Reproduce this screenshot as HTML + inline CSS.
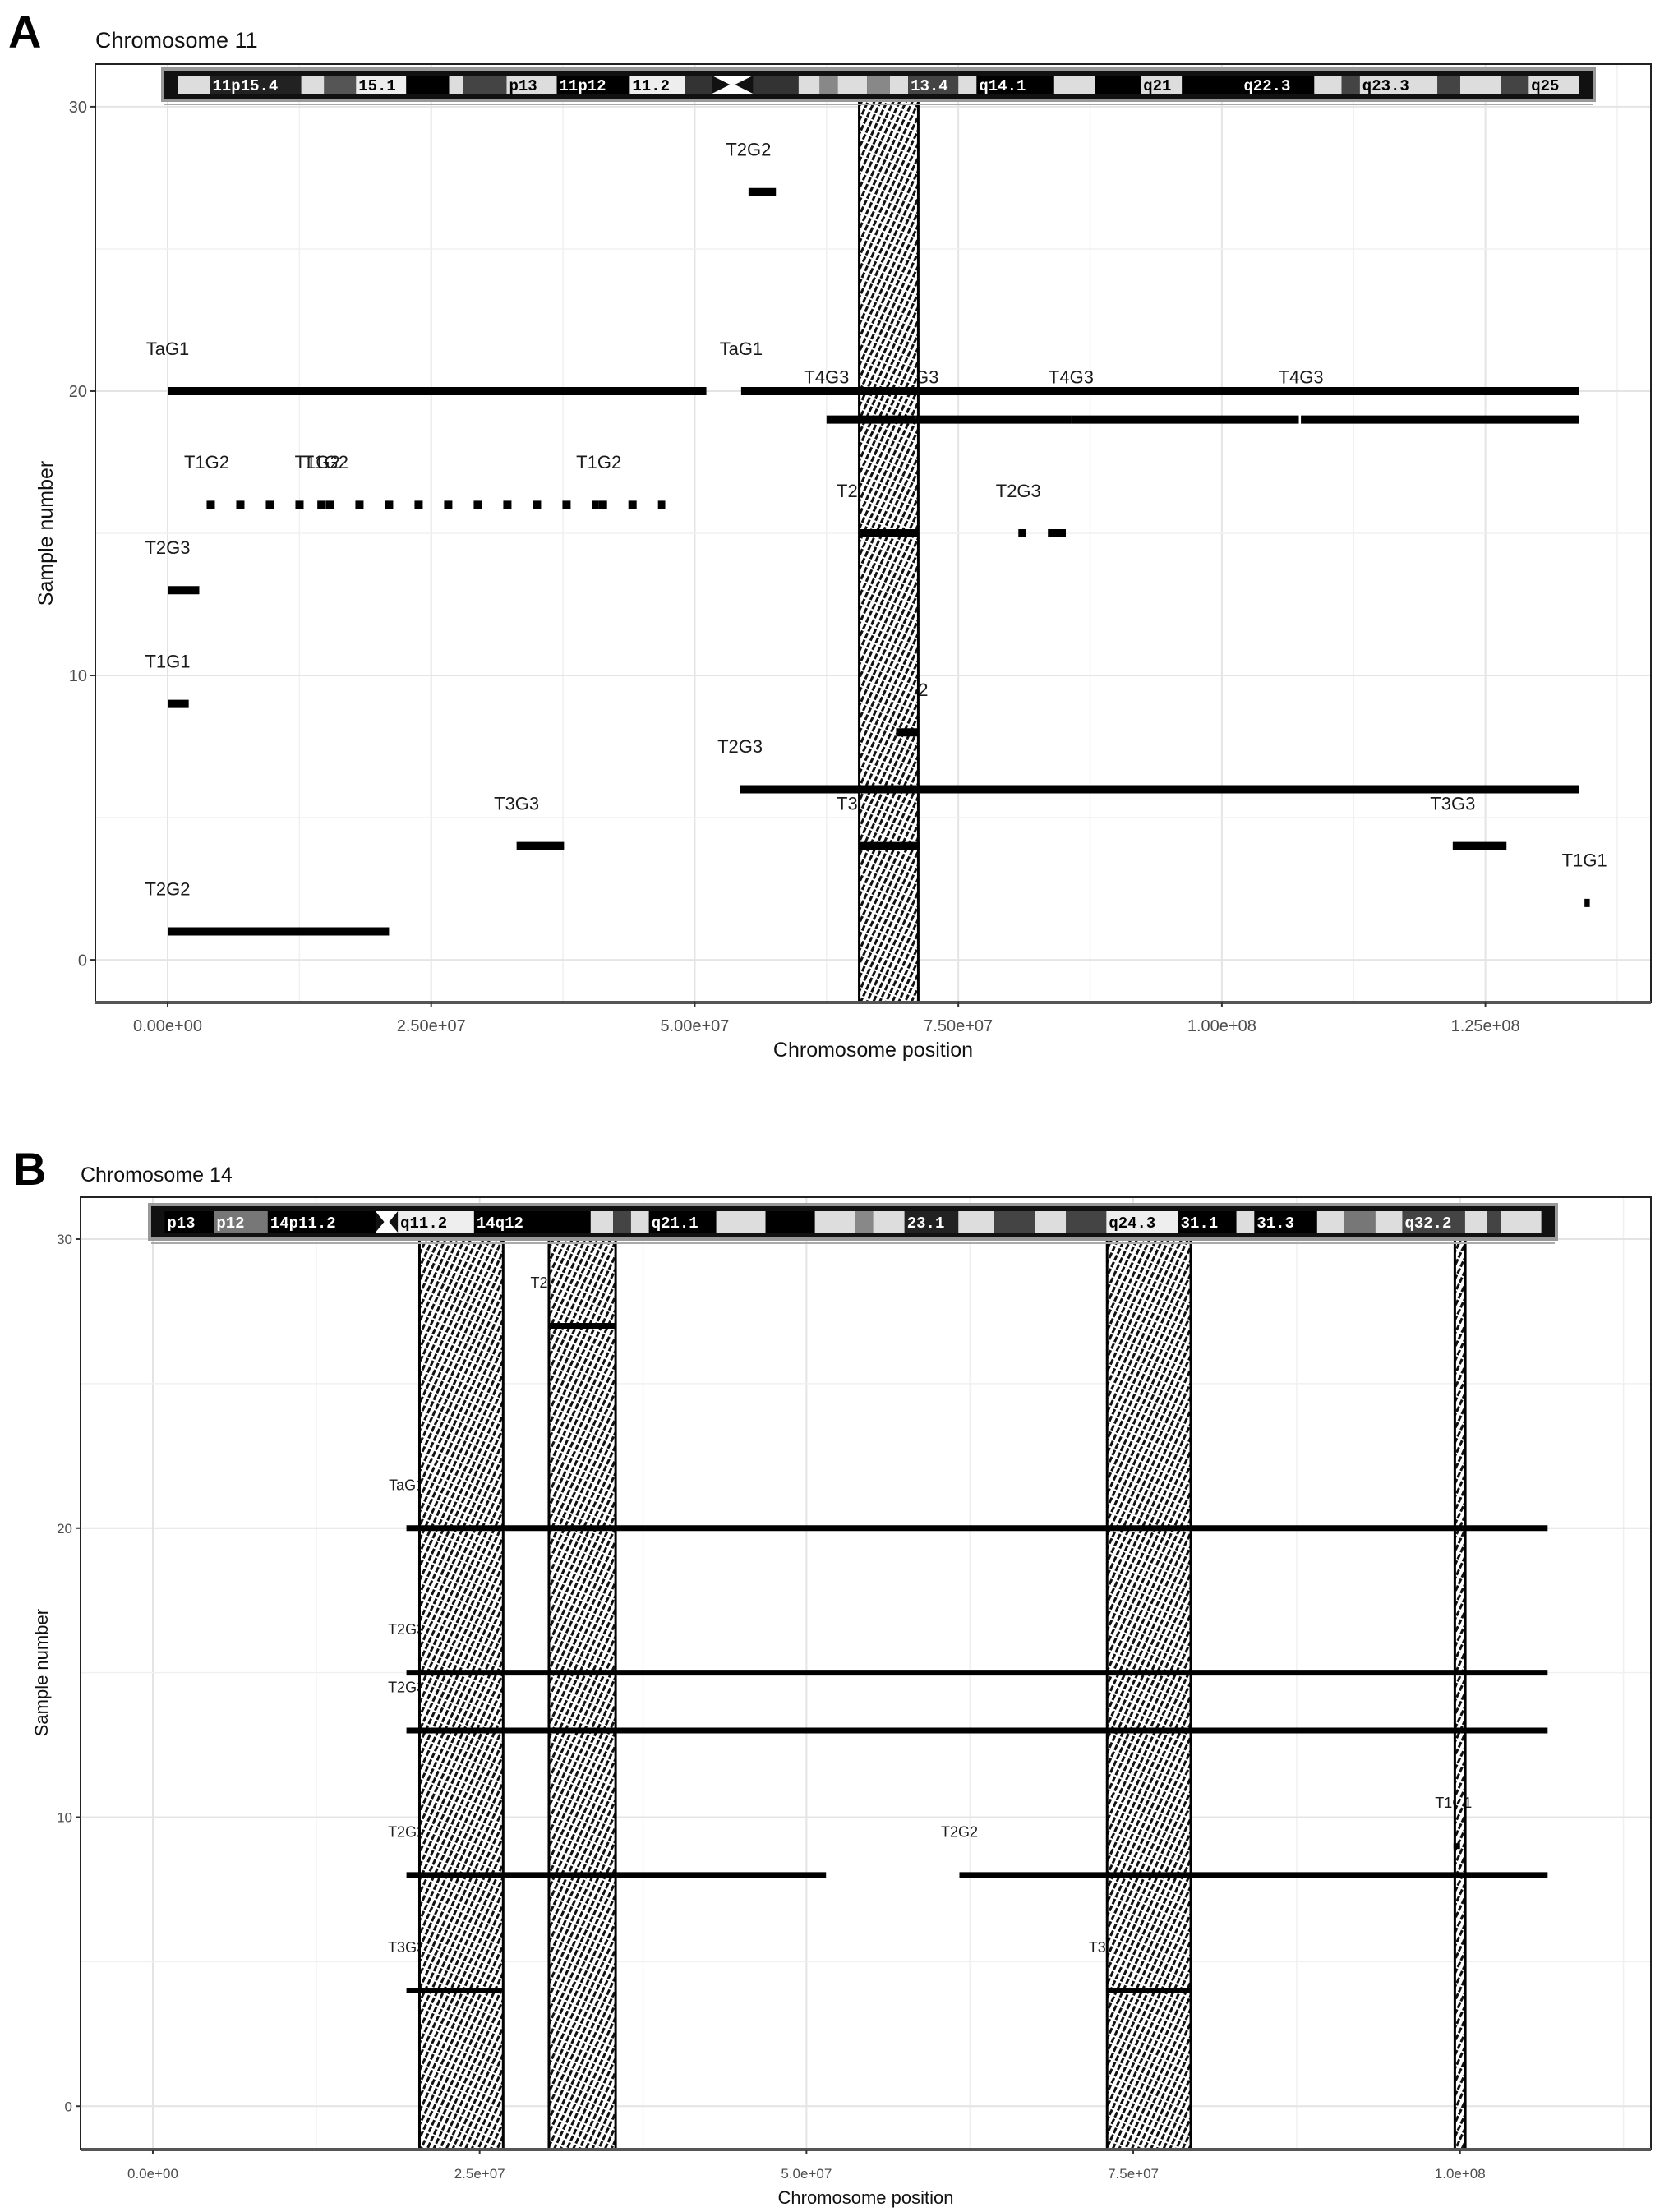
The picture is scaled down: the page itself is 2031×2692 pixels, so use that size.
<!DOCTYPE html>
<html><head><meta charset="utf-8">
<style>
html,body{margin:0;padding:0;background:#fff;}
body{width:2031px;height:2692px;overflow:hidden;font-family:"Liberation Sans",sans-serif;}
svg{display:block;}
</style></head>
<body>
<svg id="fig" width="2031" height="2692" viewBox="0 0 2031 2692" xmlns="http://www.w3.org/2000/svg">
<defs>
<pattern id="hatch" width="7" height="9" patternUnits="userSpaceOnUse" patternTransform="rotate(25)">
<rect width="7" height="9" fill="#fff"/>
<rect x="0" y="0" width="3" height="7" fill="#111"/>
</pattern>
</defs>
</svg>
<script>
// ---------- Panel A data (Chromosome 11) ----------
const aSegStart  = [5.51e7, 0, 5.44e7, 6.25e7, 7.10e7, 8.57e7, 1.075e8, 0.37e7, 1.42e7, 1.50e7, 4.09e7, 6.56e7, 8.07e7, 8.35e7, 0, 0, 6.91e7, 7.00e7, 5.43e7, 3.31e7, 6.56e7, 1.219e8, 1.344e8, 0];
const aSegEnd    = [5.77e7, 5.11e7, 1.339e8, 7.10e7, 8.57e7, 1.073e8, 1.339e8, 1.42e7, 1.50e7, 4.09e7, 4.72e7, 7.12e7, 8.14e7, 8.52e7, 0.3e7, 0.2e7, 7.00e7, 7.11e7, 1.339e8, 3.76e7, 7.14e7, 1.270e8, 1.349e8, 2.10e7];
const aSegSample = [27, 20, 20, 19, 19, 19, 19, 16, 16, 16, 16, 15, 15, 15, 13, 9, 8, 8, 6, 4, 4, 4, 2, 1];
const aSegLabel  = ['T2G2','TaG1','TaG1','T4G3','T4G3','T4G3','T4G3','T1G2','T1G2','T1G2','T1G2','T2G3','T2G3','','T2G3','T1G1','T2G2','T2G2','T2G3','T3G3','T3G3','T3G3','T1G1','T2G2'];
const aSegDashed = [0,0,0,0,0,0,0,1,1,1,1,0,0,0,0,0,0,0,0,0,0,0,0,0];
const aHatchStart = [6.56e7];
const aHatchEnd   = [7.12e7];
const aXTicks = [0, 2.5e7, 5.0e7, 7.5e7, 1.0e8, 1.25e8];
const aXTickLabels = ['0.00e+00','2.50e+07','5.00e+07','7.50e+07','1.00e+08','1.25e+08'];
const aYTicks = [0, 10, 20, 30];
const aYTickLabels = ['0','10','20','30'];

// ---------- Panel B data (Chromosome 14) ----------
const bSegStart  = [3.03e7, 1.94e7, 1.94e7, 1.94e7, 1.94e7, 6.17e7, 0.995e8, 1.94e7, 7.30e7];
const bSegEnd    = [3.54e7, 1.067e8, 1.067e8, 1.067e8, 5.15e7, 1.067e8, 1.0e8, 2.67e7, 7.94e7];
const bSegSample = [27, 20, 15, 13, 8, 8, 9, 4, 4];
const bSegLabel  = ['T2G2','TaG1','T2G3','T2G3','T2G2','T2G2','T1G1','T3G3','T3G3'];
const bHatchStart = [2.04e7, 3.03e7, 7.30e7, 0.996e8];
const bHatchEnd   = [2.68e7, 3.54e7, 7.94e7, 1.004e8];
const bXTicks = [0, 2.5e7, 5.0e7, 7.5e7, 1.0e8];
const bXTickLabels = ['0.0e+00','2.5e+07','5.0e+07','7.5e+07','1.0e+08'];
const bYTicks = [0, 10, 20, 30];
const bYTickLabels = ['0','10','20','30'];

// ideogram bands (layout, in ideogram-local units 15..1550)
const aBands = [[15,50,'#ddd'],[50,150,'#222','11p15.4','#fff'],[150,175,'#ddd'],[175,210,'#555'],[210,265,'#eee','15.1','#000'],[265,312,'#000'],[312,327,'#ddd'],[327,375,'#444'],[375,430,'#ddd','p13','#000'],[430,510,'#000','11p12','#fff'],[510,570,'#eee','11.2','#000'],[570,600,'#333'],[645,695,'#333'],[695,718,'#ddd'],[718,738,'#888'],[738,770,'#ddd'],[770,795,'#888'],[795,815,'#ddd'],[815,870,'#444','13.4','#fff'],[870,890,'#ddd'],[890,975,'#000','q14.1','#fff'],[975,1020,'#ddd'],[1020,1070,'#000'],[1070,1115,'#ddd','q21','#000'],[1115,1180,'#000'],[1180,1260,'#000','q22.3','#fff'],[1260,1290,'#ddd'],[1290,1310,'#444'],[1310,1395,'#ddd','q23.3','#000'],[1395,1420,'#444'],[1420,1465,'#ddd'],[1465,1495,'#444'],[1495,1550,'#ddd','q25','#000']];
const bBands = [[15,70,'#000','p13','#fff'],[70,130,'#777','p12','#fff'],[130,250,'#000','14p11.2','#fff'],[275,360,'#eee','q11.2','#000'],[360,490,'#000','14q12','#fff'],[490,515,'#ddd'],[515,535,'#444'],[535,555,'#ddd'],[555,630,'#000','q21.1','#fff'],[630,685,'#ddd'],[685,740,'#000'],[740,785,'#ddd'],[785,805,'#888'],[805,840,'#ddd'],[840,900,'#222','23.1','#fff'],[900,940,'#ddd'],[940,985,'#444'],[985,1020,'#ddd'],[1020,1065,'#444'],[1065,1145,'#eee','q24.3','#000'],[1145,1210,'#000','31.1','#fff'],[1210,1230,'#ddd'],[1230,1300,'#000','31.3','#fff'],[1300,1330,'#ddd'],[1330,1365,'#777'],[1365,1395,'#ddd'],[1395,1465,'#444','q32.2','#fff'],[1465,1490,'#ddd'],[1490,1505,'#444'],[1505,1550,'#ddd']];

const NS = 'http://www.w3.org/2000/svg';
const svg = document.getElementById('fig');
function mk(tag, attrs, parent){
  const e = document.createElementNS(NS, tag);
  for (const k in attrs) e.setAttribute(k, attrs[k]);
  (parent || svg).appendChild(e);
  return e;
}

function drawPanel(p, d){
  const g = mk('g', {});
  
  
  const xs = v => p.left + (v - p.xmin) / (p.xmax - p.xmin) * (p.right - p.left);
  const ys = v => p.bottom - (v - p.ymin) / (p.ymax - p.ymin) * (p.bottom - p.top);

  const letter = mk('text', {x:p.letterX, y:p.letterY, 'font-size':p.letterSize, 'font-weight':'bold', fill:'#000'}, g);
  letter.textContent = p.letter;
  
  
  const title = mk('text', {x:p.left, y:p.titleY, 'font-size':p.titleSize, fill:'#111'}, g);
  title.textContent = p.title;
  
  

  const grid = mk('g', {}, g);
  
  
  for (let i = 0; i < d.xTicks.length; i++){
    const x = xs(d.xTicks[i]);
    mk('line', {x1:x, x2:x, y1:p.top, y2:p.bottom, stroke:'#e4e4e4', 'stroke-width':2}, grid);
    const xm = xs(d.xTicks[i] + (d.xTicks[1]-d.xTicks[0])/2);
    if (xm < p.right) mk('line', {x1:xm, x2:xm, y1:p.top, y2:p.bottom, stroke:'#f0f0f0', 'stroke-width':1.5}, grid);
  }
  for (let i = 0; i < d.yTicks.length; i++){
    const y = ys(d.yTicks[i]);
    mk('line', {x1:p.left, x2:p.right, y1:y, y2:y, stroke:'#e4e4e4', 'stroke-width':2}, grid);
    const ym = ys(d.yTicks[i] + 5);
    if (ym > p.top) mk('line', {x1:p.left, x2:p.right, y1:ym, y2:ym, stroke:'#f0f0f0', 'stroke-width':1.5}, grid);
  }

  for (let i = 0; i < d.segStart.length; i++){
    if (!d.segLabel[i]) continue;
    const t = mk('text', {x:xs(d.segStart[i]), y:ys(d.segSample[i] + 1.5) + p.labelSize*0.35, 'font-size':p.labelSize, 'text-anchor':'middle', fill:'#1a1a1a'}, g);
    t.textContent = d.segLabel[i];
    
    
  }

  for (let i = 0; i < d.hatchStart.length; i++){
    const x0 = xs(d.hatchStart[i]), x1 = xs(d.hatchEnd[i]);
    const r = mk('rect', {x:x0, y:p.hatchTop, width:Math.max(x1-x0, 4), height:p.bottom - p.hatchTop, fill:'url(#hatch)', stroke:'#000', 'stroke-width':3}, g);
    
    
  }

  for (let i = 0; i < d.segStart.length; i++){
    const y = ys(d.segSample[i]);
    const attrs = {x1:xs(d.segStart[i]), x2:xs(d.segEnd[i]), y1:y, y2:y, stroke:'#000', 'stroke-width':p.lineW};
    if (d.segDashed && d.segDashed[i]) attrs['stroke-dasharray'] = '10 26';
    const l = mk('line', attrs, g);
    
    
  }

  const ig = mk('g', {}, g);
  
  
  const iw = p.ideoR - p.ideoL;
  const ix = z => p.ideoL + (z / 1565) * iw;
  mk('rect', {x:p.ideoL - 4, y:p.ideoT - 4, width:iw + 8, height:p.ideoB - p.ideoT + 8, fill:'#999'}, ig);
  mk('rect', {x:p.ideoL, y:p.ideoT, width:iw, height:p.ideoB - p.ideoT, fill:'#111'}, ig);
  const bt = p.ideoT + 6, bb = p.ideoB - 6;
  for (const b of p.bands){
    mk('rect', {x:ix(b[0]), y:bt, width:ix(b[1]) - ix(b[0]), height:bb - bt, fill:b[2]}, ig);
    if (b[3]){
      const t = mk('text', {x:ix(b[0]) + 3, y:(bt+bb)/2 + p.ideoFont*0.36, 'font-size':p.ideoFont, 'font-weight':'bold', 'font-family':'Liberation Mono, monospace', fill:b[4], textLength:Math.min(ix(b[1]) - ix(b[0]) - 5, b[3].length*p.ideoFont*0.6), lengthAdjust:'spacingAndGlyphs'}, ig);
      t.textContent = b[3];
      
      
    }
  }
  const c0 = ix(p.cen[0]), c1 = ix(p.cen[1]), cm = (c0+c1)/2, cy = (bt+bb)/2;
  mk('polygon', {points:`${c0},${bt} ${c1},${bt} ${cm+3},${cy} ${c1},${bb} ${c0},${bb} ${cm-3},${cy}`, fill:'#fff'}, ig);
  mk('line', {x1:p.ideoL, x2:p.ideoR, y1:p.ideoB + 7, y2:p.ideoB + 7, stroke:'#aaa', 'stroke-width':2}, ig);

  mk('rect', {x:p.left, y:p.top, width:p.right - p.left, height:p.bottom - p.top, fill:'none', stroke:'#222', 'stroke-width':2}, g);
  mk('line', {x1:p.left, x2:p.right, y1:p.bottom, y2:p.bottom, stroke:'#555', 'stroke-width':4}, g);

  for (let i = 0; i < d.xTicks.length; i++){
    const x = xs(d.xTicks[i]);
    mk('line', {x1:x, x2:x, y1:p.bottom, y2:p.bottom + 6, stroke:'#333', 'stroke-width':2}, g);
    const t = mk('text', {x:x, y:p.bottom + 35, 'font-size':p.tickSize, 'text-anchor':'middle', fill:'#4d4d4d'}, g);
    t.textContent = d.xTickLabels[i];
    
    
  }
  for (let i = 0; i < d.yTicks.length; i++){
    const y = ys(d.yTicks[i]);
    mk('line', {x1:p.left - 6, x2:p.left, y1:y, y2:y, stroke:'#333', 'stroke-width':2}, g);
    const t = mk('text', {x:p.left - 10, y:y + p.tickSize*0.36, 'font-size':p.tickSize, 'text-anchor':'end', fill:'#4d4d4d'}, g);
    t.textContent = d.yTickLabels[i];
    
    
  }
  const xt = mk('text', {x:(p.left + p.right)/2, y:p.bottom + 66, 'font-size':p.axisSize, 'text-anchor':'middle', fill:'#111'}, g);
  xt.textContent = 'Chromosome position';
  
  
  const ycx = p.yTitleX, ycy = (ys(0) + ys(30))/2;
  const yt = mk('text', {x:ycx, y:ycy, 'font-size':p.axisSize, 'text-anchor':'middle', fill:'#111', transform:`rotate(-90 ${ycx} ${ycy})`}, g);
  yt.textContent = 'Sample number';
  
  
}

drawPanel({id:'a', letter:'A', title:'Chromosome 11', letterX:10, letterY:58, letterSize:56, titleY:58, titleSize:27,
  left:116, right:2009, top:78, bottom:1220, xmin:-0.686e7, xmax:1.407e8, ymin:-1.5, ymax:31.5,
  hatchTop:122, lineW:10, labelSize:22, tickSize:20, axisSize:25, yTitleX:64,
  ideoL:200, ideoR:1938, ideoT:86, ideoB:120, ideoFont:19, bands:aBands, cen:[600,645]},
 {segStart:aSegStart, segEnd:aSegEnd, segSample:aSegSample, segLabel:aSegLabel, segDashed:aSegDashed,
  hatchStart:aHatchStart, hatchEnd:aHatchEnd, xTicks:aXTicks, xTickLabels:aXTickLabels, yTicks:aYTicks, yTickLabels:aYTickLabels});

drawPanel({id:'b', letter:'B', title:'Chromosome 14', letterX:16, letterY:1442, letterSize:56, titleY:1438, titleSize:25,
  left:98, right:2009, top:1457, bottom:2616, xmin:-0.553e7, xmax:1.146e8, ymin:-1.5, ymax:31.45,
  hatchTop:1506, lineW:7, labelSize:18, tickSize:17, axisSize:22, yTitleX:58,
  ideoL:184, ideoR:1892, ideoT:1468, ideoB:1506, ideoFont:19, bands:bBands, cen:[250,275]},
 {segStart:bSegStart, segEnd:bSegEnd, segSample:bSegSample, segLabel:bSegLabel, segDashed:null,
  hatchStart:bHatchStart, hatchEnd:bHatchEnd, xTicks:bXTicks, xTickLabels:bXTickLabels, yTicks:bYTicks, yTickLabels:bYTickLabels});
</script>
</body></html>
